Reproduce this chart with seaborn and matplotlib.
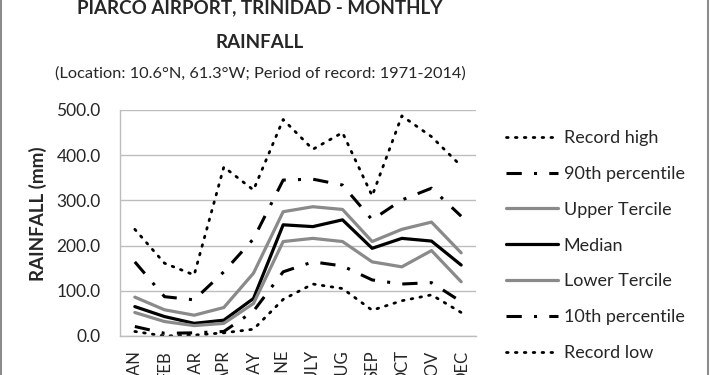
import matplotlib
matplotlib.use("Agg")
import matplotlib.pyplot as plt
import seaborn as sns
import pandas as pd
from matplotlib.patches import Rectangle

months = ["JAN", "FEB", "MAR", "APR", "MAY", "JUNE", "JULY", "AUG", "SEP", "OCT", "NOV", "DEC"]
record_high = [236, 161, 135, 374, 323, 479, 413, 450, 310, 487, 441, 376]
p90 = [164, 87, 80, 142, 215, 345, 347, 334, 257, 301, 327, 265]
upper_tercile = [86, 58, 46, 63, 139, 275, 286, 280, 209, 236, 252, 184]
median = [65, 43, 28, 35, 83, 246, 242, 257, 194, 216, 210, 157]
lower_tercile = [52, 32, 23, 28, 72, 209, 216, 209, 164, 153, 189, 120]
p10 = [21, 6, 7, 10, 55, 142, 164, 155, 124, 115, 118, 76]
record_low = [10, 0, 2, 7, 15, 81, 115, 105, 57, 78, 91, 52]

series = [
    ("Record high", record_high),
    ("90th percentile", p90),
    ("Upper Tercile", upper_tercile),
    ("Median", median),
    ("Lower Tercile", lower_tercile),
    ("10th percentile", p10),
    ("Record low", record_low),
]

sns.set_style("white")
plt.rcParams["font.family"] = ["Lato", "DejaVu Sans"]
txt = "#262626"

fig = plt.figure(figsize=(7.1, 3.75), dpi=100)
ax = fig.add_axes([120 / 710, 1 - 336 / 375, 356 / 710, 226 / 375])

dot = (0, (0.6, 2.6))
dashdot = (0, (5, 4, 1, 4))
styles = {
    "Record high": dict(color="black", lw=2.0, ls=dot),
    "90th percentile": dict(color="black", lw=2.2, ls=dashdot),
    "Upper Tercile": dict(color="#8a8a8a", lw=2.3, ls="-"),
    "Median": dict(color="black", lw=2.3, ls="-"),
    "Lower Tercile": dict(color="#8a8a8a", lw=2.3, ls="-"),
    "10th percentile": dict(color="black", lw=2.2, ls=dashdot),
    "Record low": dict(color="black", lw=2.0, ls=dot),
}

for name, vals in series:
    df = pd.DataFrame({"month": months, "value": vals})
    st = styles[name]
    sns.lineplot(data=df, x="month", y="value", ax=ax, color=st["color"],
                 linewidth=st["lw"], label=name, sort=False)
    l = ax.lines[-1]
    l.set_linestyle(st["ls"])
    if st["ls"] == dot:
        l.set_dash_capstyle("round")

ax.set_xlim(-0.5, 11.5)
ax.set_ylim(0, 500)
ax.set_yticks(range(0, 501, 100))
ax.set_yticklabels([f"{v:.1f}" for v in range(0, 501, 100)], fontsize=12.5, color=txt)
ax.set_xticks(range(12))
ax.set_xticklabels(months, rotation=90, fontsize=12, color=txt, va="top")
ax.tick_params(axis="both", length=0)
ax.tick_params(axis="x", pad=10)
ax.tick_params(axis="y", pad=14)
ax.grid(axis="y", color="#bdbdbd", lw=1.0)
ax.set_axisbelow(True)
for s in ["top", "right"]:
    ax.spines[s].set_visible(False)
for s in ["left", "bottom"]:
    ax.spines[s].set_color("#bdbdbd")
    ax.spines[s].set_linewidth(1.0)
ax.set_xlabel("")
ax.set_ylabel("RAINFALL (mm)", fontsize=13.5, fontweight="bold", color=txt)
ax.yaxis.set_label_coords(-0.205, 0.54)

leg = ax.legend(loc="upper left", bbox_to_anchor=(506 / 710, 1 - 130 / 375),
                bbox_transform=fig.transFigure, frameon=False, fontsize=13,
                handlelength=2.9, handletextpad=0.3, labelspacing=1.1,
                borderaxespad=0, borderpad=0)
for t in leg.get_texts():
    t.set_color(txt)

fig.text(260 / 710, 1 - 13 / 375, "PIARCO AIRPORT, TRINIDAD - MONTHLY", ha="center",
         va="baseline", fontsize=13.5, fontweight="bold", color=txt)
fig.text(260 / 710, 1 - 48 / 375, "RAINFALL", ha="center", va="baseline",
         fontsize=13.5, fontweight="bold", color=txt)
fig.text(260 / 710, 1 - 78 / 375, "(Location: 10.6°N, 61.3°W; Period of record: 1971-2014)",
         ha="center", va="baseline", fontsize=11.8, color=txt)

fig.patches.append(Rectangle((1 / 710, -0.1), 707 / 710, 1.2, transform=fig.transFigure,
                             fill=False, edgecolor="#8c8c8c", lw=1.5))

fig.savefig("out.png", dpi=100)
